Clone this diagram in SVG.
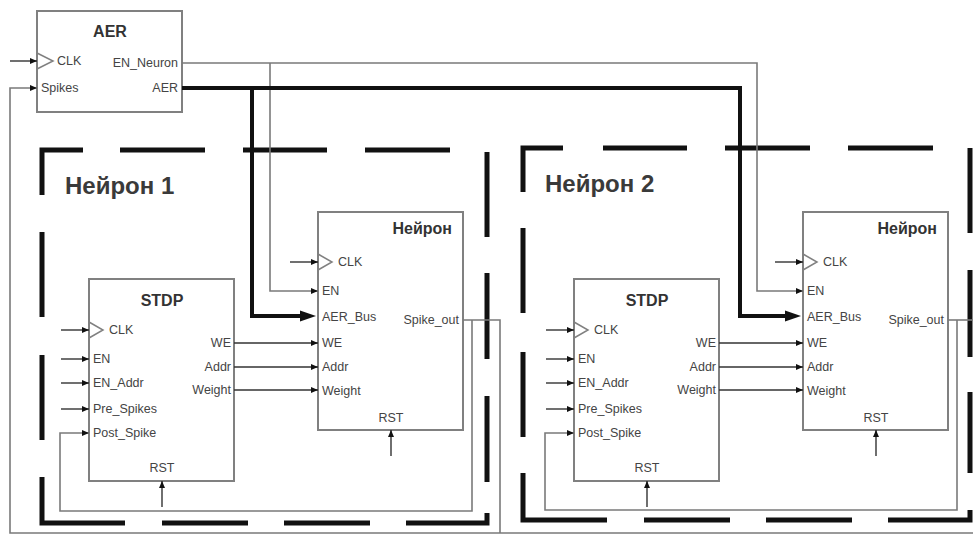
<svg xmlns="http://www.w3.org/2000/svg" width="973" height="536" viewBox="0 0 973 536">
<defs>
<marker id="arr" markerUnits="userSpaceOnUse" markerWidth="8" markerHeight="8" refX="7" refY="4" orient="auto"><path d="M0,1 L7,4 L0,7 Z" fill="#111"/></marker>
<marker id="arrBig" markerUnits="userSpaceOnUse" markerWidth="18" markerHeight="12" refX="17" refY="6" orient="auto"><path d="M0,0.5 L17,6 L0,11.5 Z" fill="#111"/></marker>
<style>
.box{fill:#fff;stroke:#808080;stroke-width:2}
.clk{fill:none;stroke:#808080;stroke-width:1.5}
.w{fill:none;stroke:#7a7a7a;stroke-width:1.6}
.in{fill:none;stroke:#333;stroke-width:1.4}
.bus{fill:none;stroke:#111;stroke-width:4}
.dash{fill:none;stroke:#111;stroke-width:5;stroke-linejoin:miter}
.lbl{font-family:"Liberation Sans",Arial,sans-serif;font-size:12.5px;fill:#444}
.ttl{font-family:"Liberation Sans",Arial,sans-serif;font-size:16px;font-weight:bold;fill:#333}
.nt{font-family:"Liberation Sans",Arial,sans-serif;font-size:16px;font-weight:bold;fill:#333}
.big{font-family:"Liberation Sans",Arial,sans-serif;font-size:24px;font-weight:bold;fill:#3a3a3a}
.r{text-anchor:end}
.c{text-anchor:middle}
</style>
</defs>

<g id="group-neuron1">
<path class="dash" d="M42,195 V150 H83 M120,150 H205 M243,150 H327 M365,150 H450 M487,152 V237 M487,273 V359 M487,396 V482 M406,523 H487 V513 M284,523 H370 M162,523 H248 M125,523 H42 V477 M42,355 V440 M42,232 V317"/>
<text class="big" x="65" y="194">Нейрон 1</text>
</g>
<g id="group-neuron2">
<path class="dash" d="M523,192 V148 H563 M603,148 H687 M725,148 H810 M848,148 H933 M970,148 V233 M970,270 V357 M970,392 V473 M888,520 H970 V510 M766,520 H852 M644,520 H730 M607,520 H523 V473 M523,352 V437 M523,228 V313"/>
<text class="big" x="545" y="192">Нейрон 2</text>
</g>

<g id="aer">
<rect class="box" x="37" y="11" width="145" height="101"/>
<text class="ttl c" x="110" y="37">AER</text>
<path class="clk" d="M37,53 L53,61 L37,69"/>
<text class="lbl" x="57" y="65">CLK</text>
<text class="lbl" x="41" y="92">Spikes</text>
<text class="lbl r" x="178" y="67">EN_Neuron</text>
<text class="lbl r" x="178" y="92">AER</text>
</g>

<g id="stdp1">
<rect class="box" x="89" y="279" width="145" height="202"/>
<text class="ttl c" x="162" y="306">STDP</text>
<path class="clk" d="M89,322 L103,330 L89,338"/>
<text class="lbl" x="109" y="334">CLK</text>
<text class="lbl" x="93" y="363">EN</text>
<text class="lbl" x="93" y="387">EN_Addr</text>
<text class="lbl" x="93" y="413">Pre_Spikes</text>
<text class="lbl" x="93" y="437">Post_Spike</text>
<text class="lbl r" x="231" y="347">WE</text>
<text class="lbl r" x="231" y="371">Addr</text>
<text class="lbl r" x="231" y="394">Weight</text>
<text class="lbl c" x="162" y="472">RST</text>
</g>

<g id="neuron1">
<rect class="box" x="318" y="212" width="145" height="218"/>
<text class="nt r" x="452" y="234">Нейрон</text>
<path class="clk" d="M318,254 L332,262 L318,270"/>
<text class="lbl" x="338" y="266">CLK</text>
<text class="lbl" x="322" y="295">EN</text>
<text class="lbl" x="322" y="321">AER_Bus</text>
<text class="lbl" x="322" y="347">WE</text>
<text class="lbl" x="322" y="371">Addr</text>
<text class="lbl" x="322" y="395">Weight</text>
<text class="lbl r" x="459" y="324">Spike_out</text>
<text class="lbl c" x="391" y="422">RST</text>
</g>

<g id="stdp2">
<rect class="box" x="574" y="279" width="145" height="202"/>
<text class="ttl c" x="647" y="306">STDP</text>
<path class="clk" d="M574,322 L588,330 L574,338"/>
<text class="lbl" x="594" y="334">CLK</text>
<text class="lbl" x="578" y="363">EN</text>
<text class="lbl" x="578" y="387">EN_Addr</text>
<text class="lbl" x="578" y="413">Pre_Spikes</text>
<text class="lbl" x="578" y="437">Post_Spike</text>
<text class="lbl r" x="716" y="347">WE</text>
<text class="lbl r" x="716" y="371">Addr</text>
<text class="lbl r" x="716" y="394">Weight</text>
<text class="lbl c" x="647" y="472">RST</text>
</g>

<g id="neuron2">
<rect class="box" x="803" y="212" width="145" height="218"/>
<text class="nt r" x="937" y="234">Нейрон</text>
<path class="clk" d="M803,254 L817,262 L803,270"/>
<text class="lbl" x="823" y="266">CLK</text>
<text class="lbl" x="807" y="295">EN</text>
<text class="lbl" x="807" y="321">AER_Bus</text>
<text class="lbl" x="807" y="347">WE</text>
<text class="lbl" x="807" y="371">Addr</text>
<text class="lbl" x="807" y="395">Weight</text>
<text class="lbl r" x="944" y="324">Spike_out</text>
<text class="lbl c" x="876" y="422">RST</text>
</g>

<g id="connectors">
<!-- AER inputs -->
<path class="in" d="M10,61 H37" marker-end="url(#arr)"/>
<path class="w" d="M973,533 H10 V88 H37" marker-end="url(#arr)"/>
<!-- EN_Neuron -->
<path class="w" d="M182,63 H757 V291 H803" marker-end="url(#arr)"/>
<path class="w" d="M270,63 V291 H318" marker-end="url(#arr)"/>
<!-- AER bus -->
<path class="bus" d="M182,88 H740 V316 H787"/>
<path class="bus" d="M252,88 V316 H302"/>
<path d="M801,316 L785,310.5 L785,321.5 Z" fill="#111"/>
<path d="M316,316 L300,310.5 L300,321.5 Z" fill="#111"/>
<!-- STDP1 inputs -->
<path class="in" d="M61,330 H89" marker-end="url(#arr)"/>
<path class="in" d="M61,359 H89" marker-end="url(#arr)"/>
<path class="in" d="M61,383 H89" marker-end="url(#arr)"/>
<path class="in" d="M61,409 H89" marker-end="url(#arr)"/>
<path class="in" d="M162,507 V481" marker-end="url(#arr)"/>
<!-- STDP1 -> Neuron1 -->
<path class="in" d="M234,343 H318" marker-end="url(#arr)"/>
<path class="in" d="M234,367 H318" marker-end="url(#arr)"/>
<path class="in" d="M234,390 H318" marker-end="url(#arr)"/>
<!-- Neuron1 -->
<path class="in" d="M290,262 H318" marker-end="url(#arr)"/>
<path class="in" d="M391,456 V430" marker-end="url(#arr)"/>
<path class="w" d="M463,320 H500 V533"/>
<path class="w" d="M472,320 V511 H60 V433 H89" marker-end="url(#arr)"/>
<!-- STDP2 inputs -->
<path class="in" d="M546,330 H574" marker-end="url(#arr)"/>
<path class="in" d="M546,359 H574" marker-end="url(#arr)"/>
<path class="in" d="M546,383 H574" marker-end="url(#arr)"/>
<path class="in" d="M546,409 H574" marker-end="url(#arr)"/>
<path class="in" d="M647,507 V481" marker-end="url(#arr)"/>
<!-- STDP2 -> Neuron2 -->
<path class="in" d="M719,343 H803" marker-end="url(#arr)"/>
<path class="in" d="M719,367 H803" marker-end="url(#arr)"/>
<path class="in" d="M719,390 H803" marker-end="url(#arr)"/>
<!-- Neuron2 -->
<path class="in" d="M775,262 H803" marker-end="url(#arr)"/>
<path class="in" d="M876,456 V430" marker-end="url(#arr)"/>
<path class="w" d="M948,320 H973"/>
<path class="w" d="M957,320 V510 H545 V433 H574" marker-end="url(#arr)"/>
</g>
</svg>
